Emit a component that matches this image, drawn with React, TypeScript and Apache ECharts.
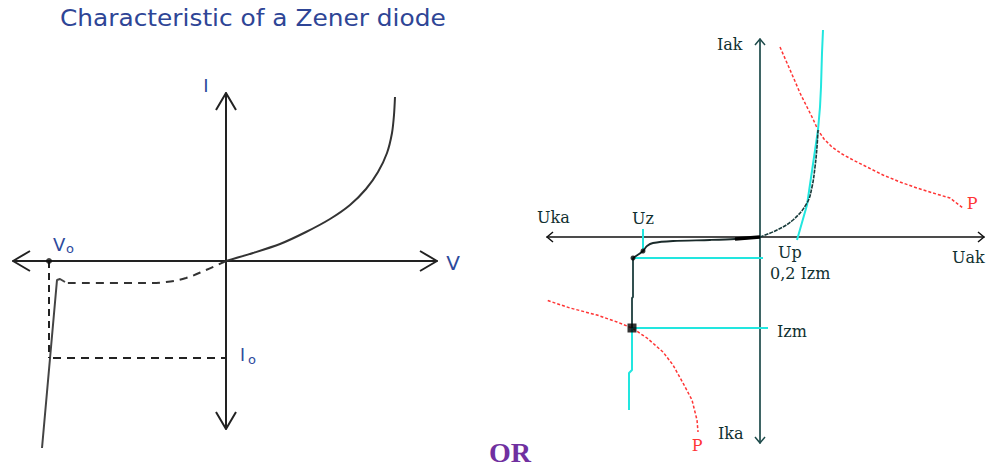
import React, { useEffect, useRef } from "react";
import * as echarts from "echarts";

// ---------- data (units: diagram units, origin at axis crossing, y up) ----------
// Left panel: Zener characteristic
const LEFT_X_RANGE = [-213, 211];
const LEFT_Y_RANGE = [-168, 168];
const leftForward = [[0, 0], [27, 8], [54, 17], [80, 29], [104, 42], [124, 56], [140, 72], [152, 89], [161, 108], [166, 128], [168, 146], [169, 164]];
const leftReverseDashed = [[0, 0], [-20, -9], [-40, -17], [-60, -21], [-80, -22], [-161, -22]];
const leftReverseSolid = [[-161, -21], [-166, -18], [-169, -19], [-184, -187]];
const leftVoDrop = [[-177, 0], [-177, -97]];
const leftIoLine = [[-173, -97], [0, -97]];
const leftVoPoint = [[-177, 0]];

// Right panel: Uak/Iak characteristic with power hyperbolas
const RIGHT_X_RANGE = [-213, 224];
const RIGHT_Y_RANGE = [-206, 198];
const rightForward = [[0, 0], [17, 7], [33, 17], [47, 34], [52, 50], [55, 70], [57, 90], [58, 107]];
const rightForwardLimit = [[63, 207], [62, 184], [61, 150], [60, 130], [58, 107], [47, 32], [37, -3]];
const rightReverseKnee = [[0, 0], [-25, -2], [-50, -3], [-87, -4], [-107, -6], [-113, -9], [-117, -14], [-127, -21]];
const rightReverseThick = [[0, 0], [-25, -2]];
const rightReverseSteep = [[-127, -21], [-127, -60], [-128, -61], [-128, -91]];
const rightReverseLimit = [[-128, -91], [-128, -133], [-131, -136], [-131, -173]];
const rightUzTick = [[-117, 8], [-117, -12]];
const rightLine02Izm = [[-127, -21], [3, -21]];
const rightLineIzm = [[-128, -91], [8, -91]];
const rightPowerTop = [[20, 190], [27, 174], [34, 158], [40, 144], [47, 130], [53, 118], [58, 107], [64, 98], [72, 90], [82, 83], [93, 77], [107, 70], [123, 62], [140, 55], [157, 49], [173, 44], [190, 39], [203, 29]];
const rightPowerBottom = [[-217, -62], [-190, -71], [-163, -78], [-143, -85], [-128, -91], [-113, -101], [-97, -115], [-87, -128], [-77, -146], [-68, -163], [-63, -183], [-62, -195]];
const rightKneeDots = [[-117, -14], [-127, -21]];
const rightIzmPoint = [[-128, -91]];

const BLUE = "#2d4a9c";
const RIGHT_TEXT = "#103030";
const CYAN = "#22e6df";
const RED = "#ff3535";

function chevrons(xr: number[], yr: number[], len: number, half: number) {
  return [
    [[xr[1] - len, half], [xr[1], 0], [xr[1] - len, -half]],
    [[xr[0] + len, half], [xr[0], 0], [xr[0] + len, -half]],
    [[-half, yr[1] - len], [0, yr[1]], [half, yr[1] - len]],
    [[-half, yr[0] + len], [0, yr[0]], [half, yr[0] + len]],
  ];
}

function lineSeries(grid: number, data: number[][], color: string, width: number, type: any = "solid", smooth: any = false, z = 2) {
  return {
    type: "line",
    xAxisIndex: grid,
    yAxisIndex: grid,
    data,
    smooth,
    symbol: "none",
    showSymbol: false,
    clip: false,
    silent: true,
    z,
    lineStyle: { color, width, type, cap: "butt" },
  };
}

function axisPair(grid: number, xr: number[], yr: number[], xColor: string, yColor: string, w: number) {
  const common = {
    type: "value",
    gridIndex: grid,
    axisTick: { show: false },
    axisLabel: { show: false },
    splitLine: { show: false },
  };
  return {
    x: { ...common, min: xr[0], max: xr[1], axisLine: { show: true, onZero: true, lineStyle: { color: xColor, width: w } } },
    y: { ...common, min: yr[0], max: yr[1], axisLine: { show: true, onZero: true, lineStyle: { color: yColor, width: w } } },
  };
}

function txt(text: string, x: number, y: number, font: string, fill: string, align = "left", scaleX = 1) {
  return { type: "text", x, y, scaleX, silent: true, style: { text, font, fill, textAlign: align, textVerticalAlign: "middle" } };
}

export default function App() {
  const ref = useRef<HTMLDivElement>(null);
  useEffect(() => {
    const chart = echarts.init(ref.current!, null, { renderer: "svg" });
    const la = axisPair(0, LEFT_X_RANGE, LEFT_Y_RANGE, "#222", "#222", 2);
    const ra = axisPair(1, RIGHT_X_RANGE, RIGHT_Y_RANGE, "#111", "#1d4a4a", 1.7);
    const lc = chevrons(LEFT_X_RANGE, LEFT_Y_RANGE, 17, 10);
    const rc = chevrons(RIGHT_X_RANGE, RIGHT_Y_RANGE, 6, 5);
    const serifR = "16px 'DejaVu Serif', serif";
    chart.setOption({
      animation: false,
      backgroundColor: "#ffffff",
      grid: [
        { left: 13, top: 93, width: 424, height: 336 },
        { left: 547, top: 39, width: 437, height: 404 },
      ],
      xAxis: [la.x, ra.x],
      yAxis: [la.y, ra.y],
      series: [
        // left panel
        lineSeries(0, leftForward, "#333", 2, "solid", 0.25, 3),
        lineSeries(0, leftReverseDashed, "#333", 2, [8, 6], 0.4, 3),
        lineSeries(0, leftReverseSolid, "#444", 2, "solid", false, 3),
        lineSeries(0, leftVoDrop, "#222", 2, [7, 5], false, 3),
        lineSeries(0, leftIoLine, "#222", 2, [8, 6], false, 3),
        ...lc.map((c) => lineSeries(0, c, "#222", 2, "solid", false, 4)),
        {
          type: "scatter", xAxisIndex: 0, yAxisIndex: 0, data: leftVoPoint, symbol: "circle", symbolSize: 6,
          itemStyle: { color: "#111" }, silent: true, z: 5,
        },
        // right panel
        lineSeries(1, rightPowerTop, RED, 1.5, [3, 2], false, 2),
        lineSeries(1, rightPowerBottom, RED, 1.5, [3, 2], false, 2),
        lineSeries(1, rightForwardLimit, CYAN, 2, "solid", false, 2),
        lineSeries(1, rightReverseLimit, CYAN, 2, "solid", false, 2),
        lineSeries(1, rightUzTick, CYAN, 2, "solid", false, 2),
        lineSeries(1, rightLine02Izm, CYAN, 2, "solid", false, 2),
        lineSeries(1, rightLineIzm, CYAN, 2, "solid", false, 2),
        lineSeries(1, rightForward, "#173a3a", 1.6, [4, 1], 0.4, 4),
        lineSeries(1, rightReverseKnee, "#1a2a2a", 1.8, "solid", 0.3, 4),
        lineSeries(1, rightReverseThick, "#000", 3.5, "solid", false, 4),
        lineSeries(1, rightReverseSteep, "#1d3e3e", 1.8, "solid", false, 4),
        ...rc.map((c, i) => lineSeries(1, c, i < 2 ? "#111" : "#1d4a4a", 1.5, "solid", false, 4)),
        {
          type: "scatter", xAxisIndex: 1, yAxisIndex: 1, data: rightKneeDots, symbol: "circle", symbolSize: 5,
          itemStyle: { color: "#000" }, silent: true, z: 6,
        },
        {
          type: "scatter", xAxisIndex: 1, yAxisIndex: 1, data: rightIzmPoint, symbol: "rect", symbolSize: 9,
          itemStyle: { color: "#000" }, silent: true, z: 6,
        },
      ],
      graphic: [
        txt("Characteristic of a Zener diode", 60, 18, "23px 'DejaVu Sans', Verdana, sans-serif", "#2e4596", "left", 1.08),
        txt("I", 206, 85, "18px 'DejaVu Sans', sans-serif", BLUE, "center"),
        txt("V", 453, 263, "20px 'DejaVu Sans', sans-serif", BLUE, "center"),
        txt("V", 53, 244, "18px 'DejaVu Sans', sans-serif", BLUE),
        txt("o", 66, 248, "13px 'DejaVu Sans', sans-serif", BLUE),
        txt("I", 240, 355, "17px 'DejaVu Sans', sans-serif", BLUE),
        txt("o", 248, 359, "13px 'DejaVu Sans', sans-serif", BLUE),
        txt("Iak", 717, 44, serifR, RIGHT_TEXT),
        txt("Uka", 537, 217, serifR, RIGHT_TEXT),
        txt("Uz", 632, 218, serifR, RIGHT_TEXT),
        txt("Up", 778, 252, serifR, RIGHT_TEXT),
        txt("0,2 Izm", 770, 273, serifR, RIGHT_TEXT),
        txt("Uak", 952, 257, serifR, RIGHT_TEXT),
        txt("Izm", 777, 331, serifR, RIGHT_TEXT),
        txt("Ika", 718, 433, serifR, RIGHT_TEXT),
        txt("P", 697, 445, serifR, RED, "center"),
        txt("P", 972, 203, serifR, RED, "center"),
        txt("OR", 510, 452, "bold 28px 'Liberation Serif', 'Times New Roman', serif", "#7030a0", "center"),
      ],
    });
    return () => chart.dispose();
  }, []);
  return <div ref={ref} style={{ position: "fixed", left: 0, top: 0, width: 986, height: 466 }} />;
}
